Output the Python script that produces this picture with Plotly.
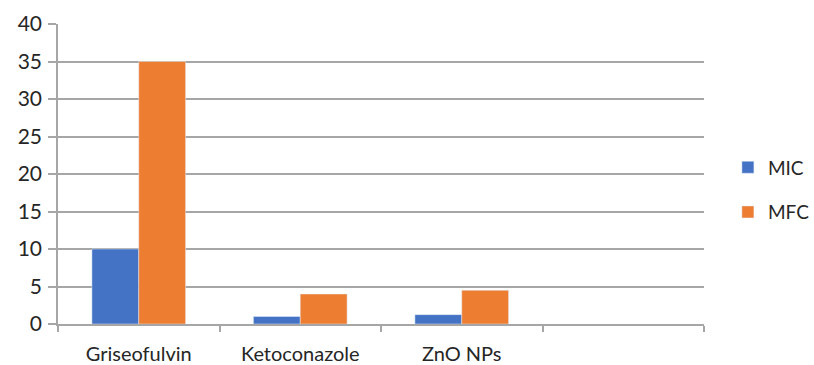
import plotly.graph_objects as go

categories = ["Griseofulvin", "Ketoconazole", "ZnO NPs", " "]
mic = [10, 1, 1.25, None]
mfc = [35, 4, 4.5, None]
y_ticks = [0, 5, 10, 15, 20, 25, 30, 35, 40]

fig = go.Figure()
fig.add_trace(go.Bar(name="MIC", x=categories, y=mic, marker_color="#4472C4",
                     legendgroup="a"))
fig.add_trace(go.Bar(name="MFC", x=categories, y=mfc, marker_color="#ED7D31",
                     legendgroup="b"))

fig.update_layout(
    width=814, height=365,
    margin=dict(l=58, r=110, t=24, b=41, autoexpand=False),
    paper_bgcolor="white", plot_bgcolor="white",
    barmode="group", bargap=0.42, bargroupgap=0,
    font=dict(family="Lato, Liberation Sans, sans-serif", size=20, color="#262626"),
    legend=dict(x=1.037, xanchor="left", y=0.447, yanchor="middle",
                tracegroupgap=17, font=dict(size=19), bgcolor="rgba(0,0,0,0)"),
    showlegend=True,
)
fig.update_xaxes(
    type="category", categoryorder="array", categoryarray=categories,
    range=[-0.5, 3.5], automargin=False,
    showgrid=False, showline=True, linecolor="#A6A6A6", linewidth=1.5,
    ticks="outside", tickson="boundaries", ticklen=6, tickcolor="#A6A6A6",
    tickwidth=1.5, ticklabelstandoff=11,
)
fig.update_yaxes(
    range=[0, 40], tickvals=y_ticks, automargin=False,
    showgrid=True, gridcolor="#A6A6A6", gridwidth=1.5,
    showline=True, linecolor="#A6A6A6", linewidth=1.5,
    ticks="outside", ticklen=8, tickcolor="#A6A6A6", tickwidth=1.5,
    zeroline=False, ticklabelstandoff=2, tickfont=dict(size=21),
)

fig.write_html("out.html", config={"displayModeBar": False},
               post_script="document.body.style.margin='0';document.body.style.overflow='hidden';")
